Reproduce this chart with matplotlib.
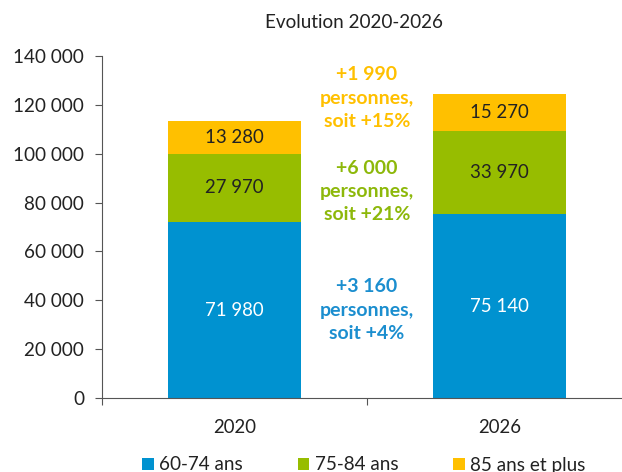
import matplotlib.pyplot as plt
from matplotlib.ticker import FuncFormatter

years = ['2020', '2026']
ages = ['60-74 ans', '75-84 ans', '85 ans et plus']
v_60_74 = [71980, 75140]
v_75_84 = [27970, 33970]
v_85 = [13280, 15270]
evol = ['+3 160\npersonnes,\nsoit +4%', '+6 000\npersonnes,\nsoit +21%', '+1 990\npersonnes,\nsoit +15%']
evol_y = [36000, 84600, 122700]

colors = ['#0092D0', '#97BD00', '#FFC000']
txt_colors = ['#1B8ECF', '#8DB80A', '#FFC000']

plt.rcParams['font.family'] = ['Lato', 'DejaVu Sans']

fig = plt.figure(figsize=(6.22, 4.72), dpi=100)
ax = fig.add_axes([102/622, 74/472, 530/622, 342/472])

x = [0, 1]
b1 = ax.bar(x, v_60_74, 0.5, color=colors[0], label=ages[0])
bottom2 = v_60_74
b2 = ax.bar(x, v_75_84, 0.5, bottom=bottom2, color=colors[1], label=ages[1])
bottom3 = [a + b for a, b in zip(v_60_74, v_75_84)]
b3 = ax.bar(x, v_85, 0.5, bottom=bottom3, color=colors[2], label=ages[2])

def fmt(v):
    return '{:,}'.format(v).replace(',', ' ')

for i in x:
    ax.text(i, v_60_74[i] / 2, fmt(v_60_74[i]), ha='center', va='center', color='white', fontsize=13.4)
    ax.text(i, bottom2[i] + v_75_84[i] / 2, fmt(v_75_84[i]), ha='center', va='center', color='#222222', fontsize=13.4)
    ax.text(i, bottom3[i] + v_85[i] / 2, fmt(v_85[i]), ha='center', va='center', color='#222222', fontsize=13.4)

for t, yy, c in zip(evol, evol_y, txt_colors):
    ax.text(0.5, yy, t, ha='center', va='center', color=c, fontsize=14,
            fontweight='bold', linespacing=1.45)

ax.set_xlim(-0.5, 1.5)
ax.set_ylim(0, 140000)
ax.set_yticks(range(0, 140001, 20000))
ax.yaxis.set_major_formatter(FuncFormatter(lambda v, p: fmt(int(v))))
ax.set_xticks([-0.5, 0.5, 1.5], minor=False)
ax.set_xticklabels(['', '', ''])
ax.set_xticks(x, minor=True)
ax.set_xticklabels(years, minor=True)
ax.tick_params(axis='x', which='minor', length=0, pad=15, labelsize=13.4, colors='#222222')
ax.tick_params(axis='x', which='major', length=5, color='#555555')
ax.tick_params(axis='y', length=5, pad=8, color='#555555', labelsize=13.6, labelcolor='#222222')
for s in ['top', 'right']:
    ax.spines[s].set_visible(False)
for s in ['left', 'bottom']:
    ax.spines[s].set_color('#555555')

fig.text(354/622, 1 - 22/472, 'Evolution 2020-2026', ha='center', va='center', fontsize=13.6, color='#222222')

fig.legend(handles=[b1, b2, b3], labels=ages, loc='center', bbox_to_anchor=(364/622, 1 - 465/472),
           ncol=3, frameon=False, fontsize=13.6, handlelength=0.6, handleheight=0.6,
           columnspacing=2.9, handletextpad=0.3, labelcolor='#222222')

fig.savefig('out.png', dpi=100)
